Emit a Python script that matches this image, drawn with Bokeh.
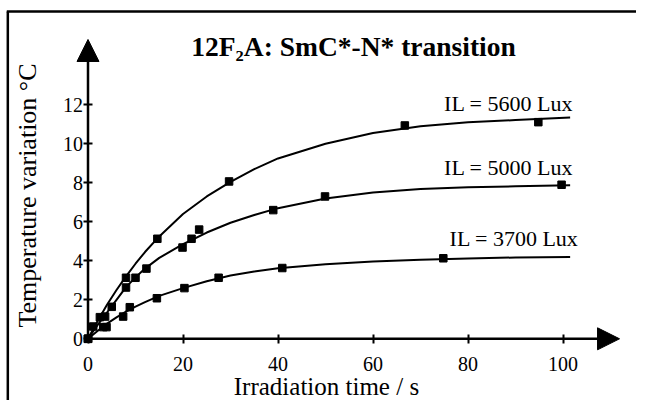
import math
from bokeh.plotting import figure
from bokeh.models import Arrow, NormalHead, Label, FixedTicker
from bokeh.embed import file_html
from bokeh.resources import INLINE

# ---- data ----
x_ticks = [0, 20, 40, 60, 80, 100]
y_ticks = [0, 2, 4, 6, 8, 10, 12]

t5600 = [0, 2.5, 8.0, 14.6, 29.7, 66.7, 94.8]
v5600 = [0, 1.11, 3.13, 5.13, 8.07, 10.94, 11.11]
t5000 = [0, 1.1, 3.6, 5.0, 8.0, 10.0, 12.3, 19.9, 21.8, 23.4, 39.0, 49.9, 99.7]
v5000 = [0, 0.63, 1.14, 1.64, 2.63, 3.13, 3.6, 4.68, 5.13, 5.6, 6.6, 7.3, 7.9]
t3700 = [0, 3.2, 3.9, 7.4, 8.8, 14.5, 20.3, 27.5, 40.9, 74.8]
v3700 = [0, 0.6, 0.6, 1.14, 1.62, 2.08, 2.6, 3.13, 3.63, 4.13]

curve_t = [0, 2, 4, 6, 8, 10, 12, 15, 20, 25, 30, 35, 40, 50, 60, 70, 80, 90, 101.5]
curve5600 = [0, 0.9, 1.75, 2.5, 3.2, 3.85, 4.45, 5.25, 6.4, 7.3, 8.05, 8.7, 9.25, 10.0, 10.55, 10.9, 11.1, 11.22, 11.35]
curve5000 = [0, 0.7, 1.35, 2.0, 2.65, 3.15, 3.6, 4.15, 4.85, 5.45, 5.95, 6.35, 6.7, 7.2, 7.5, 7.68, 7.77, 7.82, 7.87]
curve3700 = [0, 0.4, 0.78, 1.1, 1.4, 1.65, 1.88, 2.2, 2.6, 2.95, 3.25, 3.45, 3.62, 3.82, 3.97, 4.06, 4.12, 4.17, 4.2]

series_labels = ["IL = 5600 Lux", "IL = 5000 Lux", "IL = 3700 Lux"]
title_text = "12F\u2082A: SmC*-N* transition"
x_title = "Irradiation time / s"
y_title = "Temperature variation \u00b0C"

FONT = "Liberation Serif"

p = figure(width=636, height=400, output_backend="svg", toolbar_location=None,
           x_range=(-18.421, 115.47), y_range=(-3.164, 17.349),
           min_border_left=0, min_border_right=0, min_border_top=0, min_border_bottom=0)
p.xgrid.visible = False
p.ygrid.visible = False
p.outline_line_color = None
p.background_fill_color = "white"
p.border_fill_color = "white"

for ax, ticks in ((p.xaxis, x_ticks), (p.yaxis, y_ticks)):
    ax.fixed_location = 0
    ax.ticker = FixedTicker(ticks=ticks)
    ax.axis_line_color = None
    ax.major_tick_line_color = "black"
    ax.major_tick_line_width = 2
    ax.major_tick_in = 4
    ax.major_tick_out = 5
    ax.minor_tick_line_color = None
    ax.major_label_text_font = FONT
    ax.major_label_text_font_size = "20px"
    ax.major_label_text_color = "black"
p.xaxis.major_label_standoff = 13
p.yaxis.major_label_standoff = 0

# axis arrows
head = dict(size=22, fill_color="black", line_color="black")
p.add_layout(Arrow(end=NormalHead(**head), x_start=0, y_start=0, x_end=111.9, y_end=0,
                   line_width=2.5, line_color="black"))
p.add_layout(Arrow(end=NormalHead(**head), x_start=0, y_start=0, x_end=0, y_end=15.35,
                   line_width=2.5, line_color="black"))

# curves and points
for ct, cv, mt, mv in ((curve_t, curve5600, t5600, v5600),
                       (curve_t, curve5000, t5000, v5000),
                       (curve_t, curve3700, t3700, v3700)):
    p.line(ct, cv, line_color="black", line_width=2)
    p.scatter(mt, mv, marker="square", size=7.5, fill_color="black", line_color="black")

# series labels
for txt, lx, ly in zip(series_labels, [102.15, 102.15, 103.3], [12.07, 8.77, 5.14]):
    p.add_layout(Label(x=lx, y=ly, text=txt, text_font=FONT, text_font_size="22px",
                       text_align="right", text_baseline="alphabetic", text_color="black"))

# title
p.add_layout(Label(x=55.9, y=14.98, text=title_text, text_font=FONT, text_font_size="27.5px",
                   text_font_style="bold", text_align="center", text_baseline="alphabetic",
                   text_color="black"))
# axis titles
p.add_layout(Label(x=50.2, y=-2.43, text=x_title, text_font=FONT, text_font_size="25px",
                   text_align="center", text_baseline="alphabetic", text_color="black"))
p.add_layout(Label(x=-12.7, y=7.35, text=y_title, text_font=FONT, text_font_size="26px",
                   angle=math.pi / 2, text_align="center", text_baseline="alphabetic",
                   text_color="black"))

# outer frame (left and top edges; the others fall outside the picture)
p.add_layout(Arrow(end=None, x_start=-16.88, y_start=-3.2, x_end=-16.88, y_end=16.78,
                   line_width=2.5, line_color="black"))
p.add_layout(Arrow(end=None, x_start=-17.1, y_start=16.78, x_end=115.47, y_end=16.78,
                   line_width=2.5, line_color="black"))

open("out.html", "w").write(file_html(p, INLINE))
